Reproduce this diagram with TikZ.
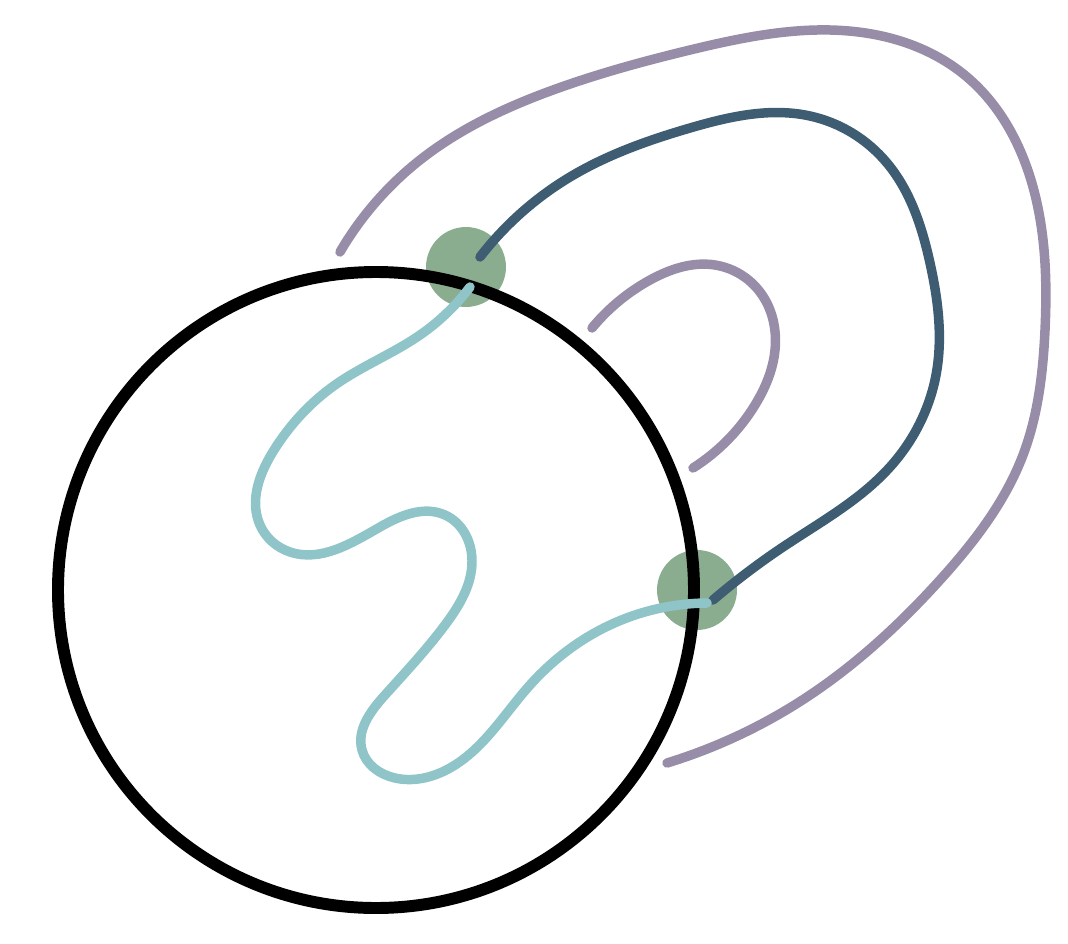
\documentclass[tikz,border=0pt]{standalone}
\usepackage{xcolor}
\usepackage{tikz}
\usetikzlibrary{hobby}
\definecolor{ringblack}{RGB}{0,0,0}
\definecolor{dotgreen}{RGB}{138,172,143}
\definecolor{pathdark}{RGB}{62,93,114}
\definecolor{pathteal}{RGB}{143,196,200}
\definecolor{pathlilac}{RGB}{152,141,168}
\tikzset{
  ring/.style={draw=ringblack, line width=6.8pt},
  anchorpt/.style={circle, fill=dotgreen, draw=none, inner sep=0pt, minimum size=45.5pt},
  strand/.style={line width=5.4pt, line cap=round, line join=round, use Hobby shortcut},
  darkstrand/.style={strand, draw=pathdark},
  tealstrand/.style={strand, draw=pathteal},
  lilacstrand/.style={strand, draw=pathlilac}
}

\begin{document}
\begin{tikzpicture}[x=0.02cm, y=-0.02cm]
  \useasboundingbox (0,0) rectangle (1068,943);

  % Anchor points on the rim
  \node[anchorpt] (top) at (466,267) {};
  \node[anchorpt] (rim) at (697,590) {};

  % Main circle
  \draw[ring] (376,590) circle (318);

  % Outer loop
  \draw[lilacstrand] (340,252) .. (420,160) .. (553,90) .. (690,50)
    .. (877,35) .. (967,77) .. (1033,187) .. (1045,330) .. (1023,455)
    .. (940,580) .. (807,697) .. (667,763);

  % Inner hook
  \draw[lilacstrand] (592,328) .. (650,280) .. (715,265) .. (760,292)
    .. (775,350) .. (755,405) .. (693,468);

  % Strand between the two anchors, outside
  \draw[darkstrand] (480,257) .. (570,177) .. (690,128) .. (810,116)
    .. (887,163) .. (930,263) .. (936,375) .. (890,467) .. (783,547)
    .. (713,600);

  % Strand between the two anchors, inside
  \draw[tealstrand] (470,287) .. (420,335) .. (335,385) .. (274,450)
    .. (260,525) .. (290,552) .. (380,527) .. (445,515) .. (472,560)
    .. (445,625) .. (385,695) .. (362,750) .. (395,778) .. (450,768)
    .. (530,685) .. (610,625) .. (707,603);
\end{tikzpicture}
\end{document}
